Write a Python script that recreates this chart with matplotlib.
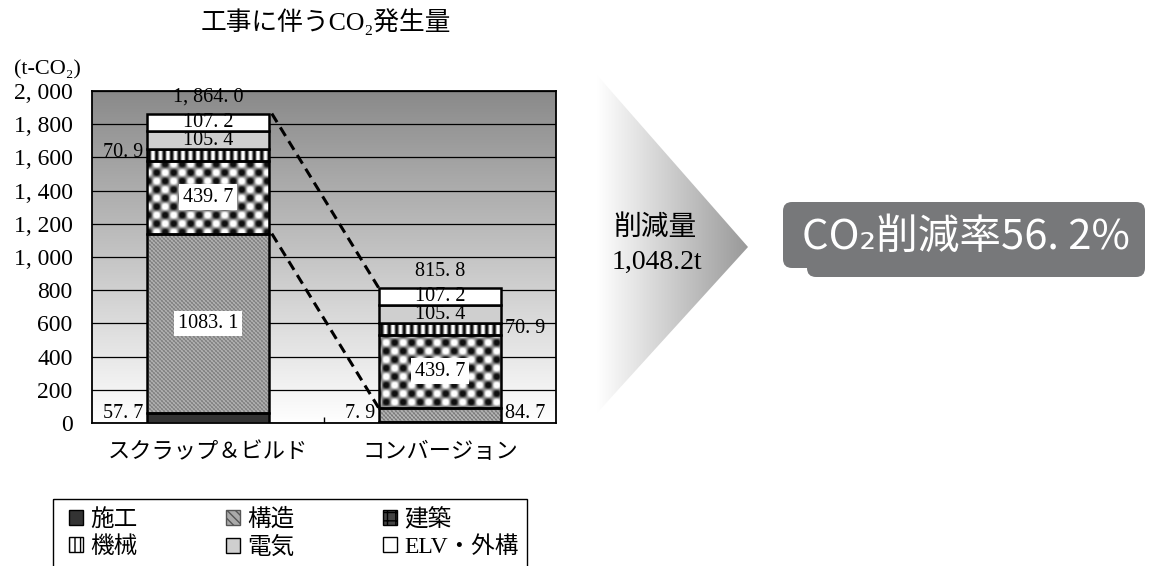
import numpy as np
import matplotlib.pyplot as plt
from matplotlib.colors import LinearSegmentedColormap
from matplotlib.patches import Polygon, FancyBboxPatch, Rectangle, Patch

plt.rcParams['font.family'] = ['Liberation Serif', 'Noto Sans CJK JP', 'DejaVu Sans']

cats = ['スクラップ＆ビルド', 'コンバージョン']
parts = ['施工', '構造', '建築', '機械', '電気', 'ELV・外構']
sekou = [57.7, 7.9]
kouzou = [1083.1, 84.7]
kenchiku = [439.7, 439.7]
kikai = [70.9, 70.9]
denki = [105.4, 105.4]
elv = [107.2, 107.2]
yticks = np.arange(0, 2001, 200)

totals = np.sum([sekou, kouzou, kenchiku, kikai, denki, elv], axis=0)
reduction = totals[0] - totals[1]
rate = reduction / totals[0] * 100


def fmt(v, comma=False):
    s = f'{v:,.1f}' if comma else f'{v:.1f}'
    return s.replace(',', ', ').replace('.', '. ')


W, H = 1150, 566
fig = plt.figure(figsize=(W / 100, H / 100), dpi=100)
ax = fig.add_axes([92 / W, 1 - 423 / H, (556 - 92) / W, (423 - 91) / H])
ext = (-0.5, 1.5, 0, 2000)

# background gradient, dark at the top
bg = LinearSegmentedColormap.from_list('bg', ['#ffffff', '#8a8a8a'])
ax.imshow(np.linspace(1, 0, 256)[:, None], cmap=bg, extent=ext, aspect='auto', zorder=0)

# fill textures in pixel units of the axes
nx, ny = 464, 332
px, py = np.meshgrid(np.arange(nx), np.arange(ny))
tex_kouzou = 0.6 + 0.18 * np.sin(2 * np.pi * (px - py) / 4) + 0.08 * np.sin(2 * np.pi * (px + py) / 4)
tex_kenchiku = np.clip(0.55 - 0.75 * np.sin(np.pi * px / 8.5) * np.sin(np.pi * py / 8.5), 0.06, 1)
tex_kikai = np.clip(0.55 + 0.65 * np.cos(2 * np.pi * px / 7.5), 0.03, 1)

x = np.arange(len(cats))
w = 0.53
layers = [
    (sekou, '#333333', None),
    (kouzou, 'none', tex_kouzou),
    (kenchiku, 'none', tex_kenchiku),
    (kikai, 'none', tex_kikai),
    (denki, '#cfcfcf', None),
    (elv, '#ffffff', None),
]
bottoms = []
bottom = np.zeros(len(cats))
for vals, fc, tex in layers:
    bottoms.append(bottom.copy())
    bars = ax.bar(x, vals, w, bottom=bottom, facecolor=fc, edgecolor='black', lw=1.8, zorder=3)
    if tex is not None:
        for b in bars:
            im = ax.imshow(tex, cmap='gray', vmin=0, vmax=1, extent=ext, aspect='auto',
                           interpolation='bilinear', zorder=2.5)
            im.set_clip_path(b)
    bottom = bottom + np.array(vals)

ax.set_xlim(-0.5, 1.5)
ax.set_ylim(0, 2000)
ax.set_yticks(yticks)
ax.set_yticklabels([fmt(v, True).replace('. 0', '') for v in yticks], fontsize=17)
ax.yaxis.grid(True, color='black', lw=0.9)
ax.tick_params(axis='y', length=0, pad=14)
ax.set_xticks(x)
ax.set_xticklabels(cats, fontsize=16)
ax.tick_params(axis='x', length=0, pad=14)
ax.set_xticks([0.5], minor=True)
ax.tick_params(axis='x', which='minor', direction='in', length=4, width=1)
for s in ax.spines.values():
    s.set_linewidth(1.3)

# dashed connectors between the two bars
top_kouzou = [bottoms[2][0], bottoms[2][1]]
ax.plot([w / 2 + 0.01, 1 - w / 2], [totals[0], totals[1]], color='black', lw=2.2,
        dashes=(3.3, 2), zorder=4)
ax.plot([w / 2 + 0.01, 1 - w / 2], top_kouzou, color='black', lw=2.2, dashes=(3.3, 2), zorder=4)

lab = dict(fontsize=14.5, ha='center', va='center', zorder=5)
side = dict(fontsize=14.5, va='center')
box = dict(facecolor='white', edgecolor='none', pad=2.5)
for i in range(2):
    ax.annotate(fmt(totals[i], True), (x[i], totals[i]), xytext=(0, 5), textcoords='offset points',
                ha='center', va='bottom', fontsize=14.5)
    ax.text(x[i], bottoms[5][i] + elv[i] / 2, fmt(elv[i]), **lab)
    ax.text(x[i], bottoms[4][i] + denki[i] / 2, fmt(denki[i]), **lab)
    ax.text(x[i], bottoms[2][i] + kenchiku[i] / 2, fmt(kenchiku[i]), bbox=box, **lab)

# left bar side labels
ax.text(-w / 2 - 0.015, bottoms[3][0] + kikai[0] / 2 + 15, fmt(kikai[0]), ha='right', **side)
ax.text(-w / 2 - 0.015, bottoms[0][0] + 55, fmt(sekou[0]), ha='right', **side)
ax.text(0, bottoms[1][0] + kouzou[0] / 2, fmt(kouzou[0]), bbox=box, **lab)
# right bar side labels
ax.text(1 + w / 2 + 0.015, bottoms[3][1] + kikai[1] / 2, fmt(kikai[1]), ha='left', **side)
ax.text(1 - w / 2 - 0.015, bottoms[0][1] + 55, fmt(sekou[1]), ha='right', **side)
ax.text(1 + w / 2 + 0.015, bottoms[1][1] + kouzou[1] / 2 + 5, fmt(kouzou[1]), ha='left', **side)

fig.text(326 / W, 1 - 22 / H, '工事に伴うCO₂発生量', ha='center', va='center', fontsize=18.5)
fig.text(47 / W, 1 - 70 / H, '(t-CO₂)', ha='center', va='center', fontsize=16)

# overlay in pixel coordinates for the arrow, the rate box and the legend frame
ov = fig.add_axes([0, 0, 1, 1], zorder=-1)
arrow_cm = LinearSegmentedColormap.from_list('arr', ['#ffffff', '#999999'])
tri = Polygon([(597, 75), (748, 247), (597, 413)], closed=True, fc='none', ec='none')
ov.add_patch(tri)
aim = ov.imshow(np.linspace(0, 1, 256)[None, :], cmap=arrow_cm, extent=(597, 748, 413, 75),
                aspect='auto', zorder=1)
aim.set_clip_path(tri)
ov.text(655, 228, '削減量', ha='center', va='center', fontsize=20)
ov.text(657, 262, f'{reduction:,.1f}t', ha='center', va='center', fontsize=20)

ov.add_patch(FancyBboxPatch((807, 215), 338, 62, boxstyle='round,pad=0,rounding_size=9',
                            fc='#77787a', ec='none', zorder=2))
ov.add_patch(FancyBboxPatch((783, 202), 362, 66, boxstyle='round,pad=0,rounding_size=9',
                            fc='#77787a', ec='none', zorder=2))
rate_txt = f'{rate:.1f}'.replace('.', '. ')
ov.text(966, 237, f'CO₂削減率{rate_txt}%', ha='center', va='center', fontsize=30, color='white',
        family=['Noto Sans CJK JP', 'DejaVu Sans'], zorder=3)

ov.add_patch(Rectangle((53, 499), 474, 100, fill=False, ec='black', lw=1))
ov.set_xlim(0, W)
ov.set_ylim(H, 0)
ov.axis('off')

handles = [
    Patch(fc='#333333', ec='black', label=parts[0]),
    Patch(fc='white', ec='black', hatch='|||', label=parts[3]),
    Patch(fc='#aaaaaa', ec='#555555', hatch='\\\\\\\\', label=parts[1]),
    Patch(fc='#cfcfcf', ec='black', label=parts[4]),
    Patch(fc='#444444', ec='black', hatch='++', label=parts[2]),
    Patch(fc='white', ec='black', label=parts[5]),
]
fig.legend(handles=handles, ncol=3, loc='upper left', bbox_to_anchor=(52 / W, 1 - 492 / H),
           frameon=False, fontsize=17, handlelength=0.6, handleheight=0.6, handletextpad=0.3,
           columnspacing=3.75, labelspacing=0.22, borderpad=0.2)

fig.savefig('out.png', dpi=100)
